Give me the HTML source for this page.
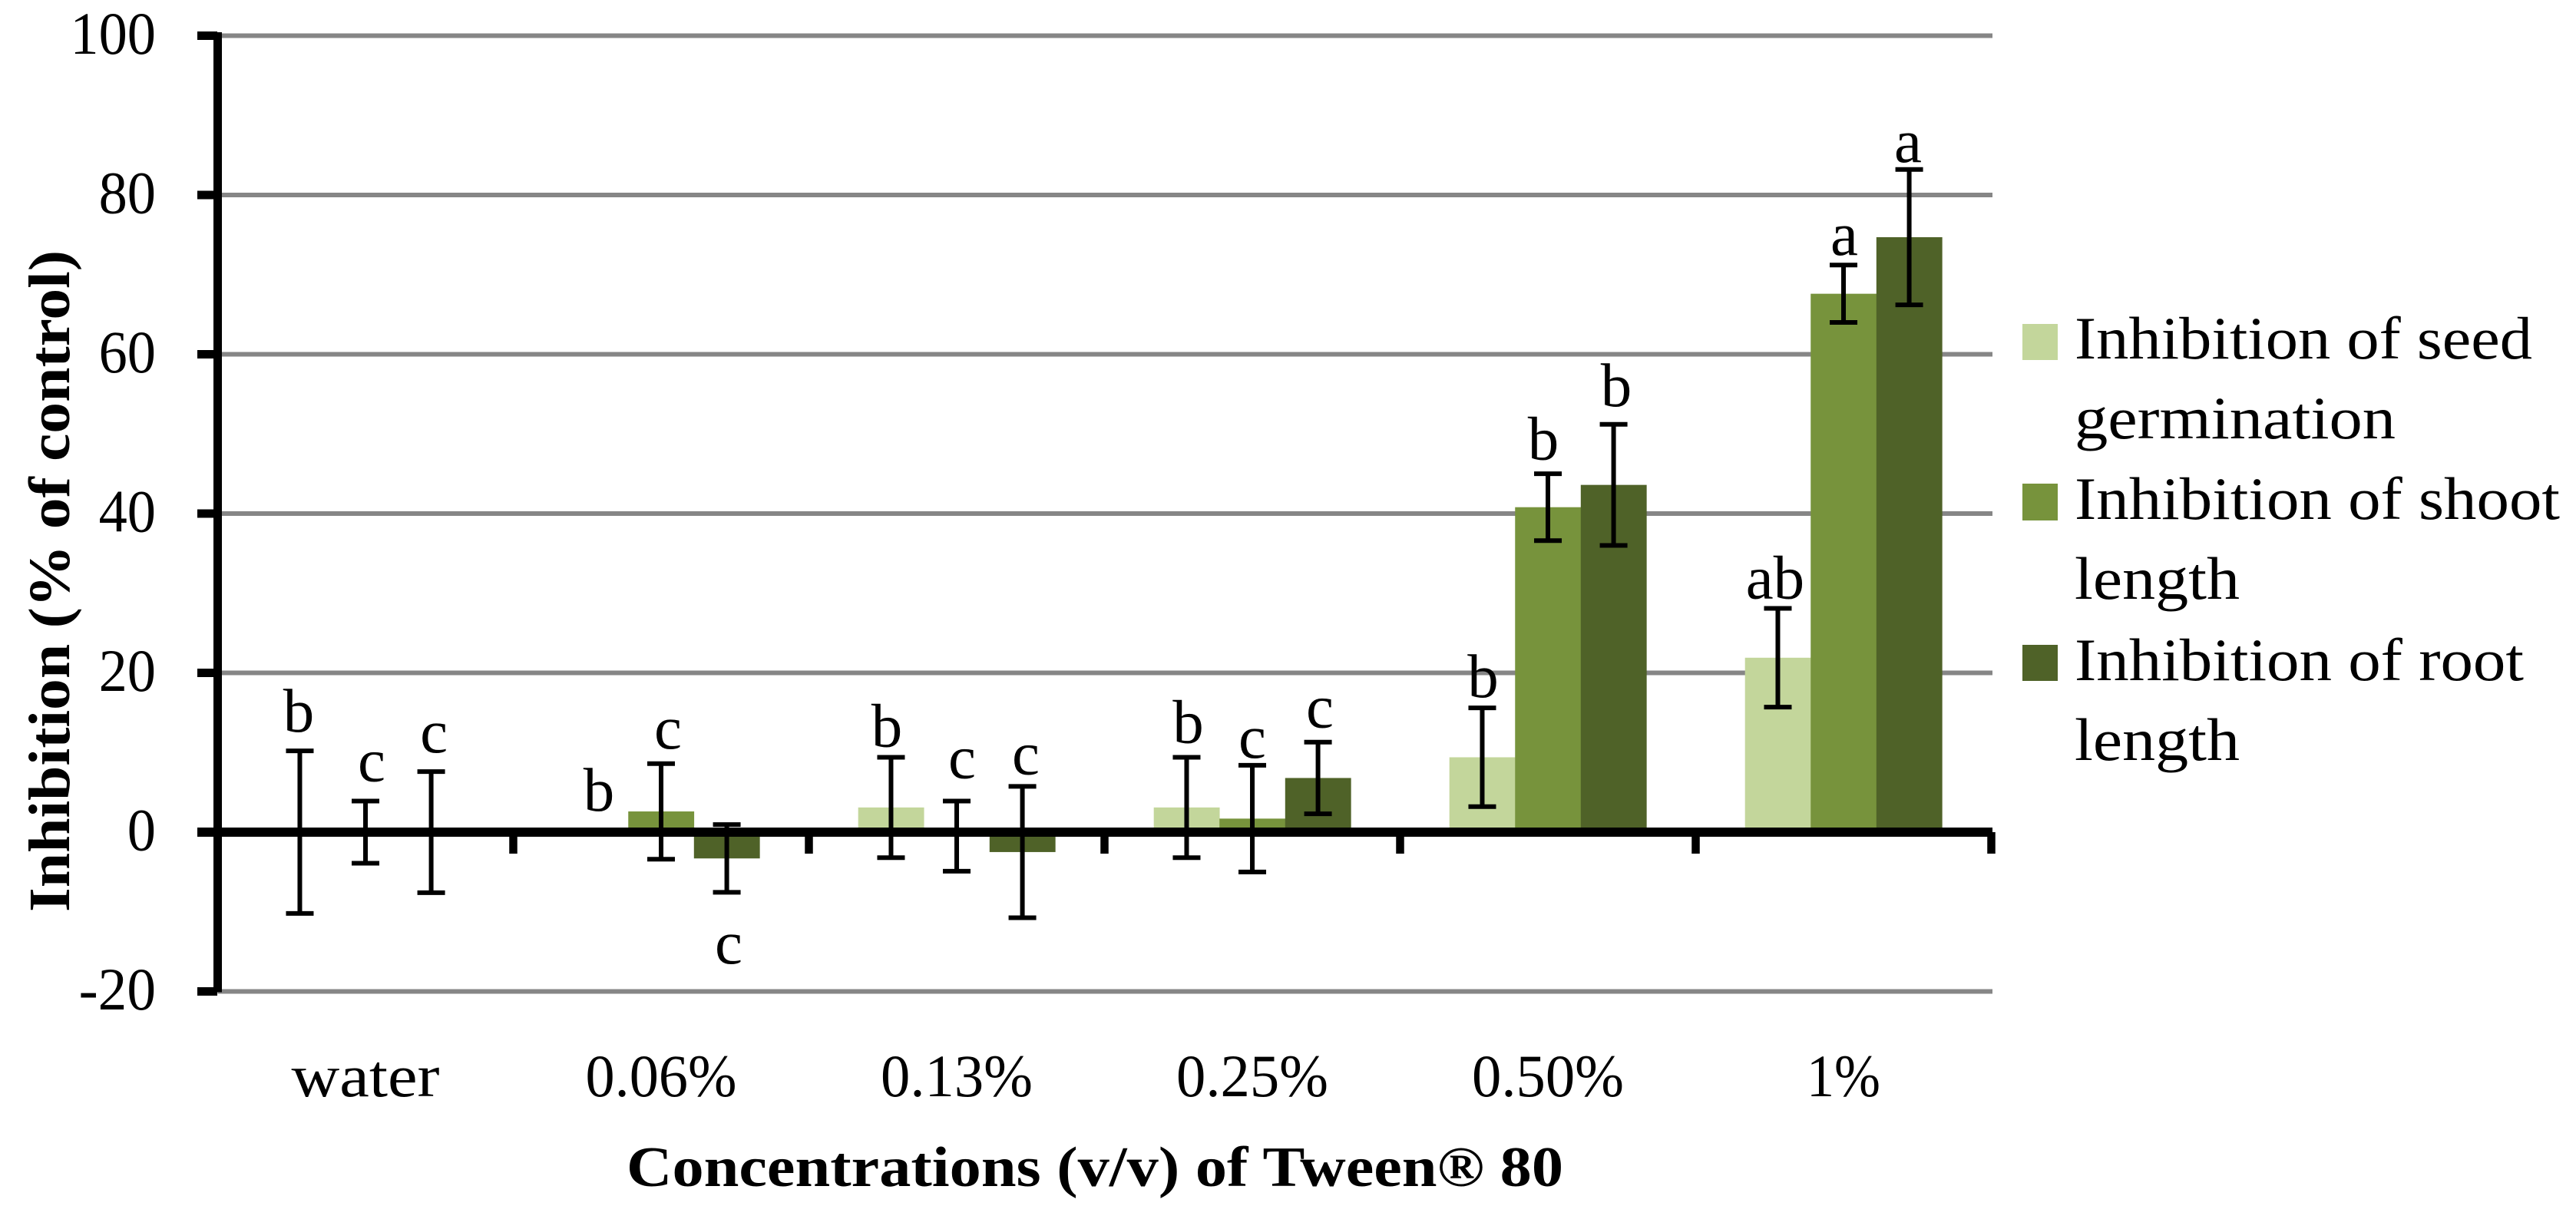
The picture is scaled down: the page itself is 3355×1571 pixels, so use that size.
<!DOCTYPE html>
<html lang="en">
<head>
<meta charset="utf-8">
<title>Inhibition by Tween 80 concentration</title>
<style>
html,body{margin:0;padding:0;background:#fff;}
svg{display:block;}
text{font-family:"Liberation Serif","DejaVu Serif",serif;fill:#000;}
</style>
</head>
<body>
<svg id="chart" xmlns="http://www.w3.org/2000/svg" width="3355" height="1571" viewBox="0 0 3355 1571">
  <rect x="0" y="0" width="3355" height="1571" fill="#ffffff"/>
  <g id="grid"></g>
  <g id="bars"></g>
  <g id="axes"></g>
  <g id="errs"></g>
  <g id="letters"></g>
  <g id="labels"></g>

  <text transform="translate(90,1188) rotate(-90)" font-size="76" font-weight="bold" textLength="862" lengthAdjust="spacingAndGlyphs">Inhibition (% of control)</text>
  <text x="816" y="1545" font-size="74" font-weight="bold" textLength="1220" lengthAdjust="spacingAndGlyphs">Concentrations (v/v) of Tween® 80</text>

  <g>
    <g>
      <rect x="2634" y="422" width="46" height="47" fill="#C3D69B"/>
      <text x="2702" y="467" font-size="78" textLength="596" lengthAdjust="spacingAndGlyphs">Inhibition of seed</text>
      <text x="2702" y="571" font-size="78" textLength="418" lengthAdjust="spacingAndGlyphs">germination</text>
    </g>
    <g>
      <rect x="2634" y="630" width="46" height="48" fill="#77933C"/>
      <text x="2702" y="676" font-size="78" textLength="632" lengthAdjust="spacingAndGlyphs">Inhibition of shoot</text>
      <text x="2702" y="780" font-size="78" textLength="215" lengthAdjust="spacingAndGlyphs">length</text>
    </g>
    <g>
      <rect x="2634" y="840" width="46" height="47" fill="#4F6228"/>
      <text x="2702" y="886" font-size="78" textLength="585" lengthAdjust="spacingAndGlyphs">Inhibition of root</text>
      <text x="2702" y="990" font-size="78" textLength="215" lengthAdjust="spacingAndGlyphs">length</text>
    </g>
  </g>
</svg>

<script>
// ---- data ----
const categories = ['water', '0.06%', '0.13%', '0.25%', '0.50%', '1%'];
const yTicks = [100, 80, 60, 40, 20, 0, -20];

const seedValues  = [0, 0, 3.1, 3.1, 9.4, 21.9];
const shootValues = [0, 2.6, -0.5, 1.7, 40.8, 67.6];
const rootValues  = [0, -3.3, -2.5, 6.8, 43.6, 74.7];

const seedErrors  = [10.2, 0, 6.3, 6.3, 6.2, 6.2];
const shootErrors = [3.9, 6, 4.4, 6.7, 4.2, 3.6];
const rootErrors  = [7.6, 4.25, 8.25, 4.5, 7.6, 8.5];

const seedLetters  = ['b', 'b', 'b', 'b', 'b', 'ab'];
const shootLetters = ['c', 'c', 'c', 'c', 'b', 'a'];
const rootLetters  = ['c', 'c', 'c', 'c', 'b', 'a'];

// ---- layout ----
const NS = 'http://www.w3.org/2000/svg';
const plotLeft = 283.5, categoryWidth = 385, barWidth = 85.55, gapSide = 64.2;
const zeroY = 1084, pxPerUnit = 10.375, gridRight = 2595;
const seriesValues = [seedValues, shootValues, rootValues];
const seriesErrors = [seedErrors, shootErrors, rootErrors];
const seriesLetters = [seedLetters, shootLetters, rootLetters];
const seriesNames = ['seed', 'shoot', 'root'];
const seriesColors = ['#C3D69B', '#77933C', '#4F6228'];
// hand-tuned label placement: [dx from bar centre, baseline gap above the error-bar top]
const letterNudgeX = [[-1.5, 4.5, -5.5, 2, 1, -3.5], [8, 9, 7, 0, -6, 1], [3.5, 2.4, 4.4, 2.4, 3.4, -1.6]];
const letterNudgeY = [[25, 28, 14, 19, 14, 13], [26, 20, 30, 10, 18.5, 13.5], [25, -181, 16, 19.5, 24, 10]];
const categoryLabelWidths = [193, 197, 198, 198, 198, 96];

function yScale(v) { return zeroY - v * pxPerUnit; }
function xBand(i) { return plotLeft + categoryWidth * i; }
function xBar(i, j) { return xBand(i) + gapSide + barWidth * j; }

function make(tag, attrs, parent) {
  const el = document.createElementNS(NS, tag);
  for (const k in attrs) el.setAttribute(k, attrs[k]);
  parent.appendChild(el);
  return el;
}

const gridG = document.getElementById('grid');
const barsG = document.getElementById('bars');
const axesG = document.getElementById('axes');
const errsG = document.getElementById('errs');
const lettersG = document.getElementById('letters');
const labelsG = document.getElementById('labels');

// gridlines (none drawn at zero; the x axis sits there)
yTicks.forEach(function (t) {
  if (t === 0) return;
  const g = make('rect', {x: plotLeft, y: yScale(t) - 3, width: gridRight - plotLeft, height: 6, fill: '#868686'}, gridG);
  
  
});

// bars
seriesValues.forEach(function (vals, j) {
  vals.forEach(function (v, i) {
    const top = Math.min(yScale(v), zeroY);
    const h = Math.abs(yScale(v) - zeroY);
    const r = make('rect', {x: xBar(i, j), y: top, width: barWidth + 0.3, height: h, fill: seriesColors[j]}, barsG);
    
    
  });
});

// axes
const yAxis = make('rect', {x: 278, y: 42, width: 11, height: yScale(-20) + 1 - 42, fill: '#000'}, axesG);


const xAxis = make('rect', {x: 257, y: zeroY - 6, width: gridRight - 257, height: 12, fill: '#000'}, axesG);



yTicks.forEach(function (t) {
  const m = make('rect', {x: 257, y: yScale(t) - 5.5, width: 26, height: 11, fill: '#000'}, axesG);
  
  
  const s = String(t);
  const w = s.replace('-', '').length * 37.2 + (t < 0 ? 26 : 0);
  const lab = make('text', {x: 203 - w, y: yScale(t) + 23.5, 'font-size': 78, textLength: w, lengthAdjust: 'spacingAndGlyphs'}, labelsG);
  
  
  lab.textContent = s;
});

categories.forEach(function (c, i) {
  const m = make('rect', {x: xBand(i + 1) - 5.25, y: zeroY, width: 10.5, height: 28, fill: '#000'}, axesG);
  
  
  const w = categoryLabelWidths[i];
  const lab = make('text', {x: xBand(i) + categoryWidth / 2 - w / 2, y: 1428, 'font-size': 78, textLength: w, lengthAdjust: 'spacingAndGlyphs'}, labelsG);
  
  
  lab.textContent = c;
});

// error bars and significance letters
seriesValues.forEach(function (vals, j) {
  vals.forEach(function (v, i) {
    const e = seriesErrors[j][i];
    const cx = xBar(i, j) + barWidth / 2;
    const yTop = yScale(v + e), yBot = yScale(v - e);
    if (e > 0) {
      const g = make('g', {stroke: '#000', 'stroke-width': 6, fill: 'none'}, errsG);
      
      
      make('line', {x1: cx, x2: cx, y1: yTop, y2: yBot}, g);
      make('line', {x1: cx - 18, x2: cx + 18, y1: yTop, y2: yTop}, g);
      make('line', {x1: cx - 18, x2: cx + 18, y1: yBot, y2: yBot}, g);
    }
    const t = make('text', {
      x: cx + letterNudgeX[j][i],
      y: yTop - letterNudgeY[j][i],
      'font-size': 81,
      'text-anchor': 'middle'
    }, lettersG);
    
    
    t.textContent = seriesLetters[j][i];
  });
});
</script>
</body>
</html>
